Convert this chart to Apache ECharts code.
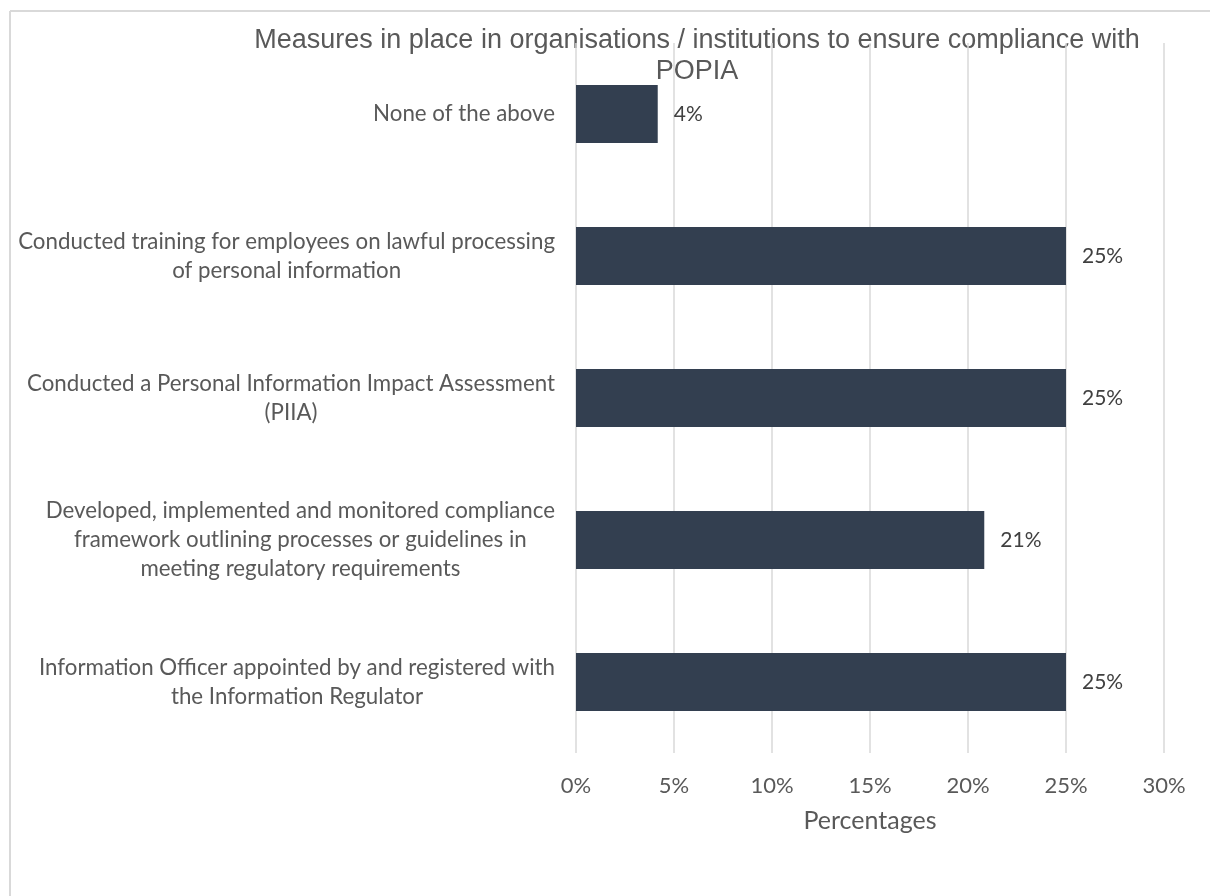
<!DOCTYPE html>
<html>
<head>
<meta charset="utf-8">
<script src="https://cdn.jsdelivr.net/npm/echarts@6/dist/echarts.min.js"></script>
<style>
  html, body { margin: 0; padding: 0; background: #ffffff; }
  #chart { width: 1210px; height: 896px; }
</style>
</head>
<body>
<div id="chart"></div>
<script>
// Survey measures, listed top to bottom
const categories = [
  'None of the above',
  'Conducted training for employees on lawful processing\nof personal information',
  'Conducted a Personal Information Impact Assessment\n(PIIA)',
  'Developed, implemented and monitored compliance\nframework outlining processes or guidelines in\nmeeting regulatory requirements',
  'Information Officer appointed by and registered with\nthe Information Regulator'
];
// Share of respondents (%)
const shares = [4.17, 25, 25, 20.83, 25];
const xTicks = { min: 0, max: 30, interval: 5 };
const titleText = 'Measures in place in organisations / institutions to ensure compliance with\nPOPIA';
const axisTitle = 'Percentages';

const labelFont = 'Lato, "Noto Sans", sans-serif';
const chart = echarts.init(document.getElementById('chart'), null, { renderer: 'canvas' });

chart.setOption({
  backgroundColor: '#ffffff',
  animation: false,
  grid: { left: 576, right: 46, top: 43, bottom: 143, containLabel: false },
  graphic: [
    { type: 'line', shape: { x1: 10, y1: 11, x2: 1210, y2: 11 }, style: { stroke: '#d9d9d9', lineWidth: 2 } },
    { type: 'line', shape: { x1: 10, y1: 11, x2: 10, y2: 896 }, style: { stroke: '#d9d9d9', lineWidth: 2 } },
    {
      type: 'text', x: 697, y: 25,
      style: {
        text: titleText, align: 'center', verticalAlign: 'top',
        font: '27px "Liberation Sans", Arial, sans-serif', lineHeight: 31, fill: '#595959'
      }
    }
  ],
  xAxis: {
    type: 'value',
    min: xTicks.min, max: xTicks.max, interval: xTicks.interval,
    name: axisTitle, nameLocation: 'middle', nameGap: 55,
    nameTextStyle: { fontFamily: labelFont, fontSize: 25, color: '#595959' },
    axisLine: { show: false },
    axisTick: { show: false },
    axisLabel: {
      formatter: v => v + '%', margin: 22,
      fontFamily: labelFont, fontSize: 22, color: '#595959'
    },
    splitLine: { show: true, lineStyle: { color: '#d9d9d9', width: 1.5 } }
  },
  yAxis: {
    type: 'category',
    inverse: true,
    data: categories,
    axisLine: { show: false },
    axisTick: { show: false },
    axisLabel: {
      margin: 21,
      align: 'right',
      formatter: v => v.split('\n').map(l => '{c|' + l + '}').join('\n'),
      rich: {
        c: { align: 'center', fontFamily: labelFont, fontSize: 22.3, lineHeight: 29, color: '#595959' }
      }
    }
  },
  series: [{
    type: 'bar',
    data: shares,
    barCategoryGap: '59%',
    itemStyle: { color: '#333f50' },
    label: {
      show: true, position: 'right', distance: 16,
      formatter: p => Math.round(p.value) + '%',
      fontFamily: labelFont, fontSize: 21, color: '#404040'
    }
  }]
});
</script>
</body>
</html>
